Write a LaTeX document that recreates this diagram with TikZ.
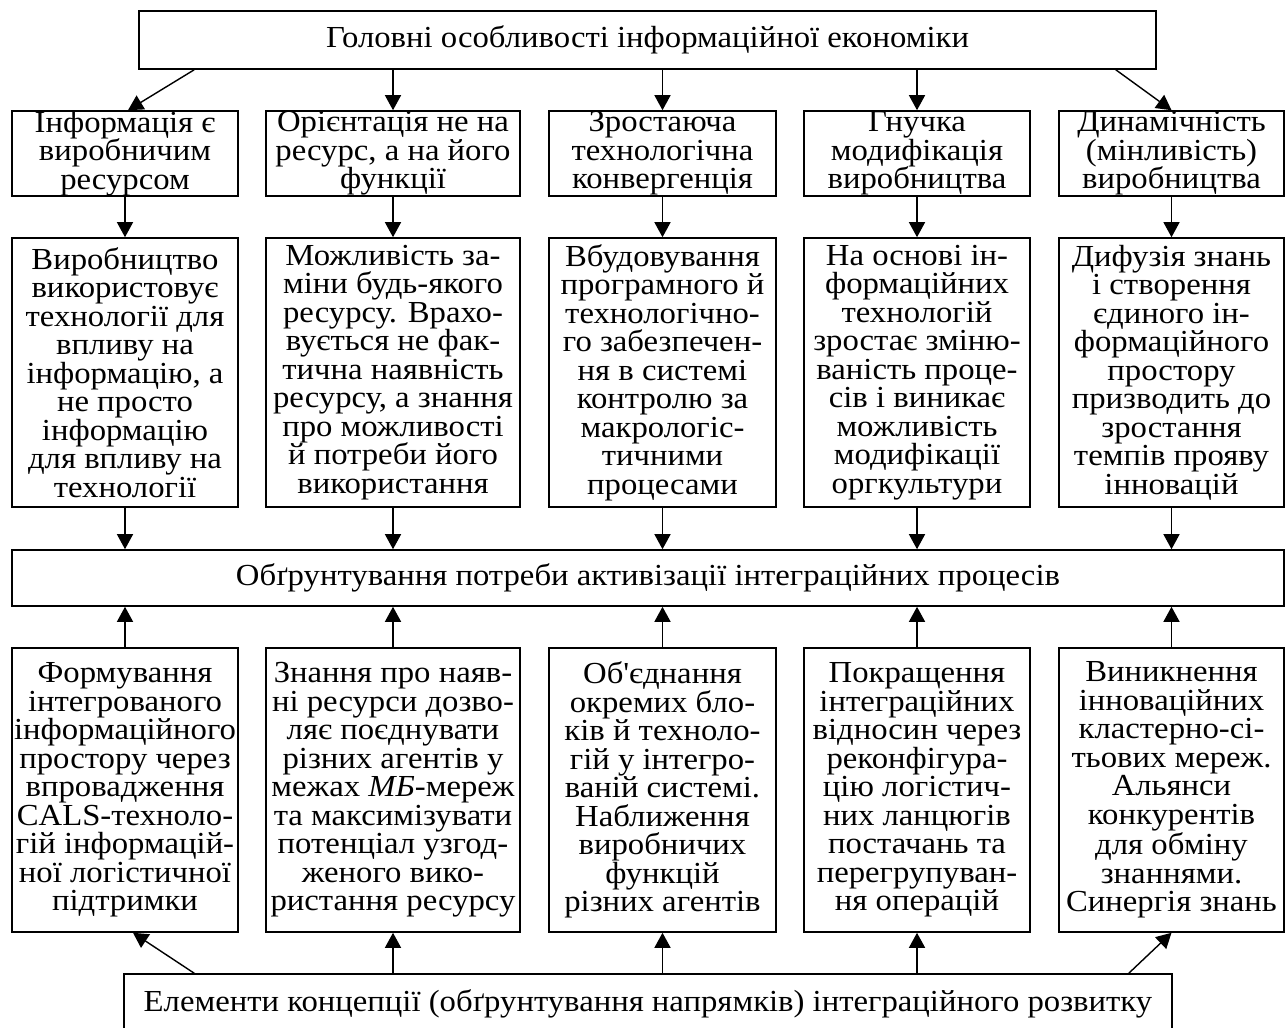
\documentclass[tikz,border=0pt]{standalone}
\usepackage{fontspec}
\setmainfont[FakeStretch=1.07]{Liberation Serif}
\usepackage{tikz}
\usetikzlibrary{arrows.meta,calc}

\begin{document}
\begin{tikzpicture}[x=0.2mm,y=-0.2mm,
	box/.style={draw,line width=0.9pt,inner sep=0pt,align=center,font=\fontsize{17.4}{16.2}\selectfont},
	arr/.style={line width=0.8pt,-{Triangle[length=3mm,width=3.2mm]}}]
	                %\draw[color=gray] (0,0) grid[step=100] (1285,1028);
			\useasboundingbox (0,0) rectangle (1285,1028);
			\node[box,minimum width=203.4mm,minimum height=11.6mm] (head) at (647.5,40) {Головні особливості інформаційної економіки};
			% features
			\node[box,minimum width=45.2mm,minimum height=17mm] (a1) at (125,153.5) {Інформація є\\виробничим\\ресурсом};
			\node[box,minimum width=50.8mm,minimum height=17mm] (a2) at (393,153.5) {Орієнтація не на\\ресурс, а на його\\функції};
			\node[box,minimum width=45.4mm,minimum height=17mm] (a3) at (662.5,153.5) {Зростаюча\\технологічна\\конвергенція};
			\node[box,minimum width=45.2mm,minimum height=17mm] (a4) at (917,153.5) {Гнучка\\модифікація\\виробництва};
			\node[box,minimum width=45.0mm,minimum height=17mm] (a5) at (1171.5,153.5) {Динамічність\\(мінливість)\\виробництва};
			% consequences
			\node[box,minimum width=45.2mm,minimum height=53.8mm] (b1) at (125,372.5) {Виробництво\\використовує\\технології для\\впливу на\\інформацію, а\\не просто\\інформацію\\для впливу на\\технології};
			\node[box,minimum width=50.8mm,minimum height=53.8mm] (b2) at (393,372.5) {Можливість за-\\міни будь-якого\\ресурсу. Врахо-\\вується не фак-\\тична наявність\\ресурсу, а знання\\про можливості\\й потреби його\\використання};
			\node[box,minimum width=45.4mm,minimum height=53.8mm] (b3) at (662.5,372.5) {Вбудовування\\програмного й\\технологічно-\\го забезпечен-\\ня в системі\\контролю за\\макрологіс-\\тичними\\процесами};
			\node[box,minimum width=45.2mm,minimum height=53.8mm] (b4) at (917,372.5) {На основі ін-\\формаційних\\технологій\\зростає зміню-\\ваність проце-\\сів і виникає\\можливість\\модифікації\\оргкультури};
			\node[box,minimum width=45.0mm,minimum height=53.8mm] (b5) at (1171.5,372.5) {Дифузія знань\\і створення\\єдиного ін-\\формаційного\\простору\\призводить до\\зростання\\темпів прояву\\інновацій};
			\node[box,minimum width=254.4mm,minimum height=11.2mm] (mid) at (648,578) {Обґрунтування потреби активізації інтеграційних процесів};
			% directions
			\node[box,minimum width=45.2mm,minimum height=56.8mm] (c1) at (125,790) {Формування\\інтегрованого\\інформаційного\\простору через\\впровадження\\CALS-техноло-\\гій інформацій-\\ної логістичної\\підтримки};
			\node[box,minimum width=50.8mm,minimum height=56.8mm] (c2) at (393,790) {Знання про наяв-\\ні ресурси дозво-\\ляє поєднувати\\різних агентів у\\межах \textit{МБ}-мереж\\та максимізувати\\потенціал узгод-\\женого вико-\\ристання ресурсу};
			\node[box,minimum width=45.4mm,minimum height=56.8mm] (c3) at (662.5,790) {Об\textquotesingle єднання\\окремих бло-\\ків й техноло-\\гій у інтегро-\\ваній системі.\\Наближення\\виробничих\\функцій\\різних агентів};
			\node[box,minimum width=45.2mm,minimum height=56.8mm] (c4) at (917,790) {Покращення\\інтеграційних\\відносин через\\реконфігура-\\цію логістич-\\них ланцюгів\\постачань та\\перегрупуван-\\ня операцій};
			\node[box,minimum width=45.0mm,minimum height=56.8mm] (c5) at (1171.5,790) {Виникнення\\інноваційних\\кластерно-сі-\\тьових мереж.\\Альянси\\конкурентів\\для обміну\\знаннями.\\Синергія знань};
			\node[box,minimum width=209.6mm,minimum height=12mm] (foot) at (648,1004) {Елементи концепції (обґрунтування напрямків) інтеграційного розвитку};
			% arrows
			\draw[arr] ($(head.south west)+(56,0)$) -- ($(a1.north)+(3,0)$);
			\foreach \i in {2,3,4}
				\draw[arr] (a\i.north |- head.south) -- (a\i.north);
			\draw[arr] ($(head.south east)+(-41,0)$) -- (a5.north);
			\foreach \i in {1,...,5}{
				\draw[arr] (a\i) -- (b\i);
				\draw[arr] (b\i.south) -- (b\i.south |- mid.north);
				\draw[arr] (c\i.north) -- (c\i.north |- mid.south);
			}
			\draw[arr] ($(foot.north west)+(71,0)$) -- ($(c1.south)+(8,0)$);
			\foreach \i in {2,3,4}
				\draw[arr] (c\i.south |- foot.north) -- (c\i.south);
			\draw[arr] ($(foot.north east)+(-44,0)$) -- (c5.south);
	\end{tikzpicture}
\end{document}
